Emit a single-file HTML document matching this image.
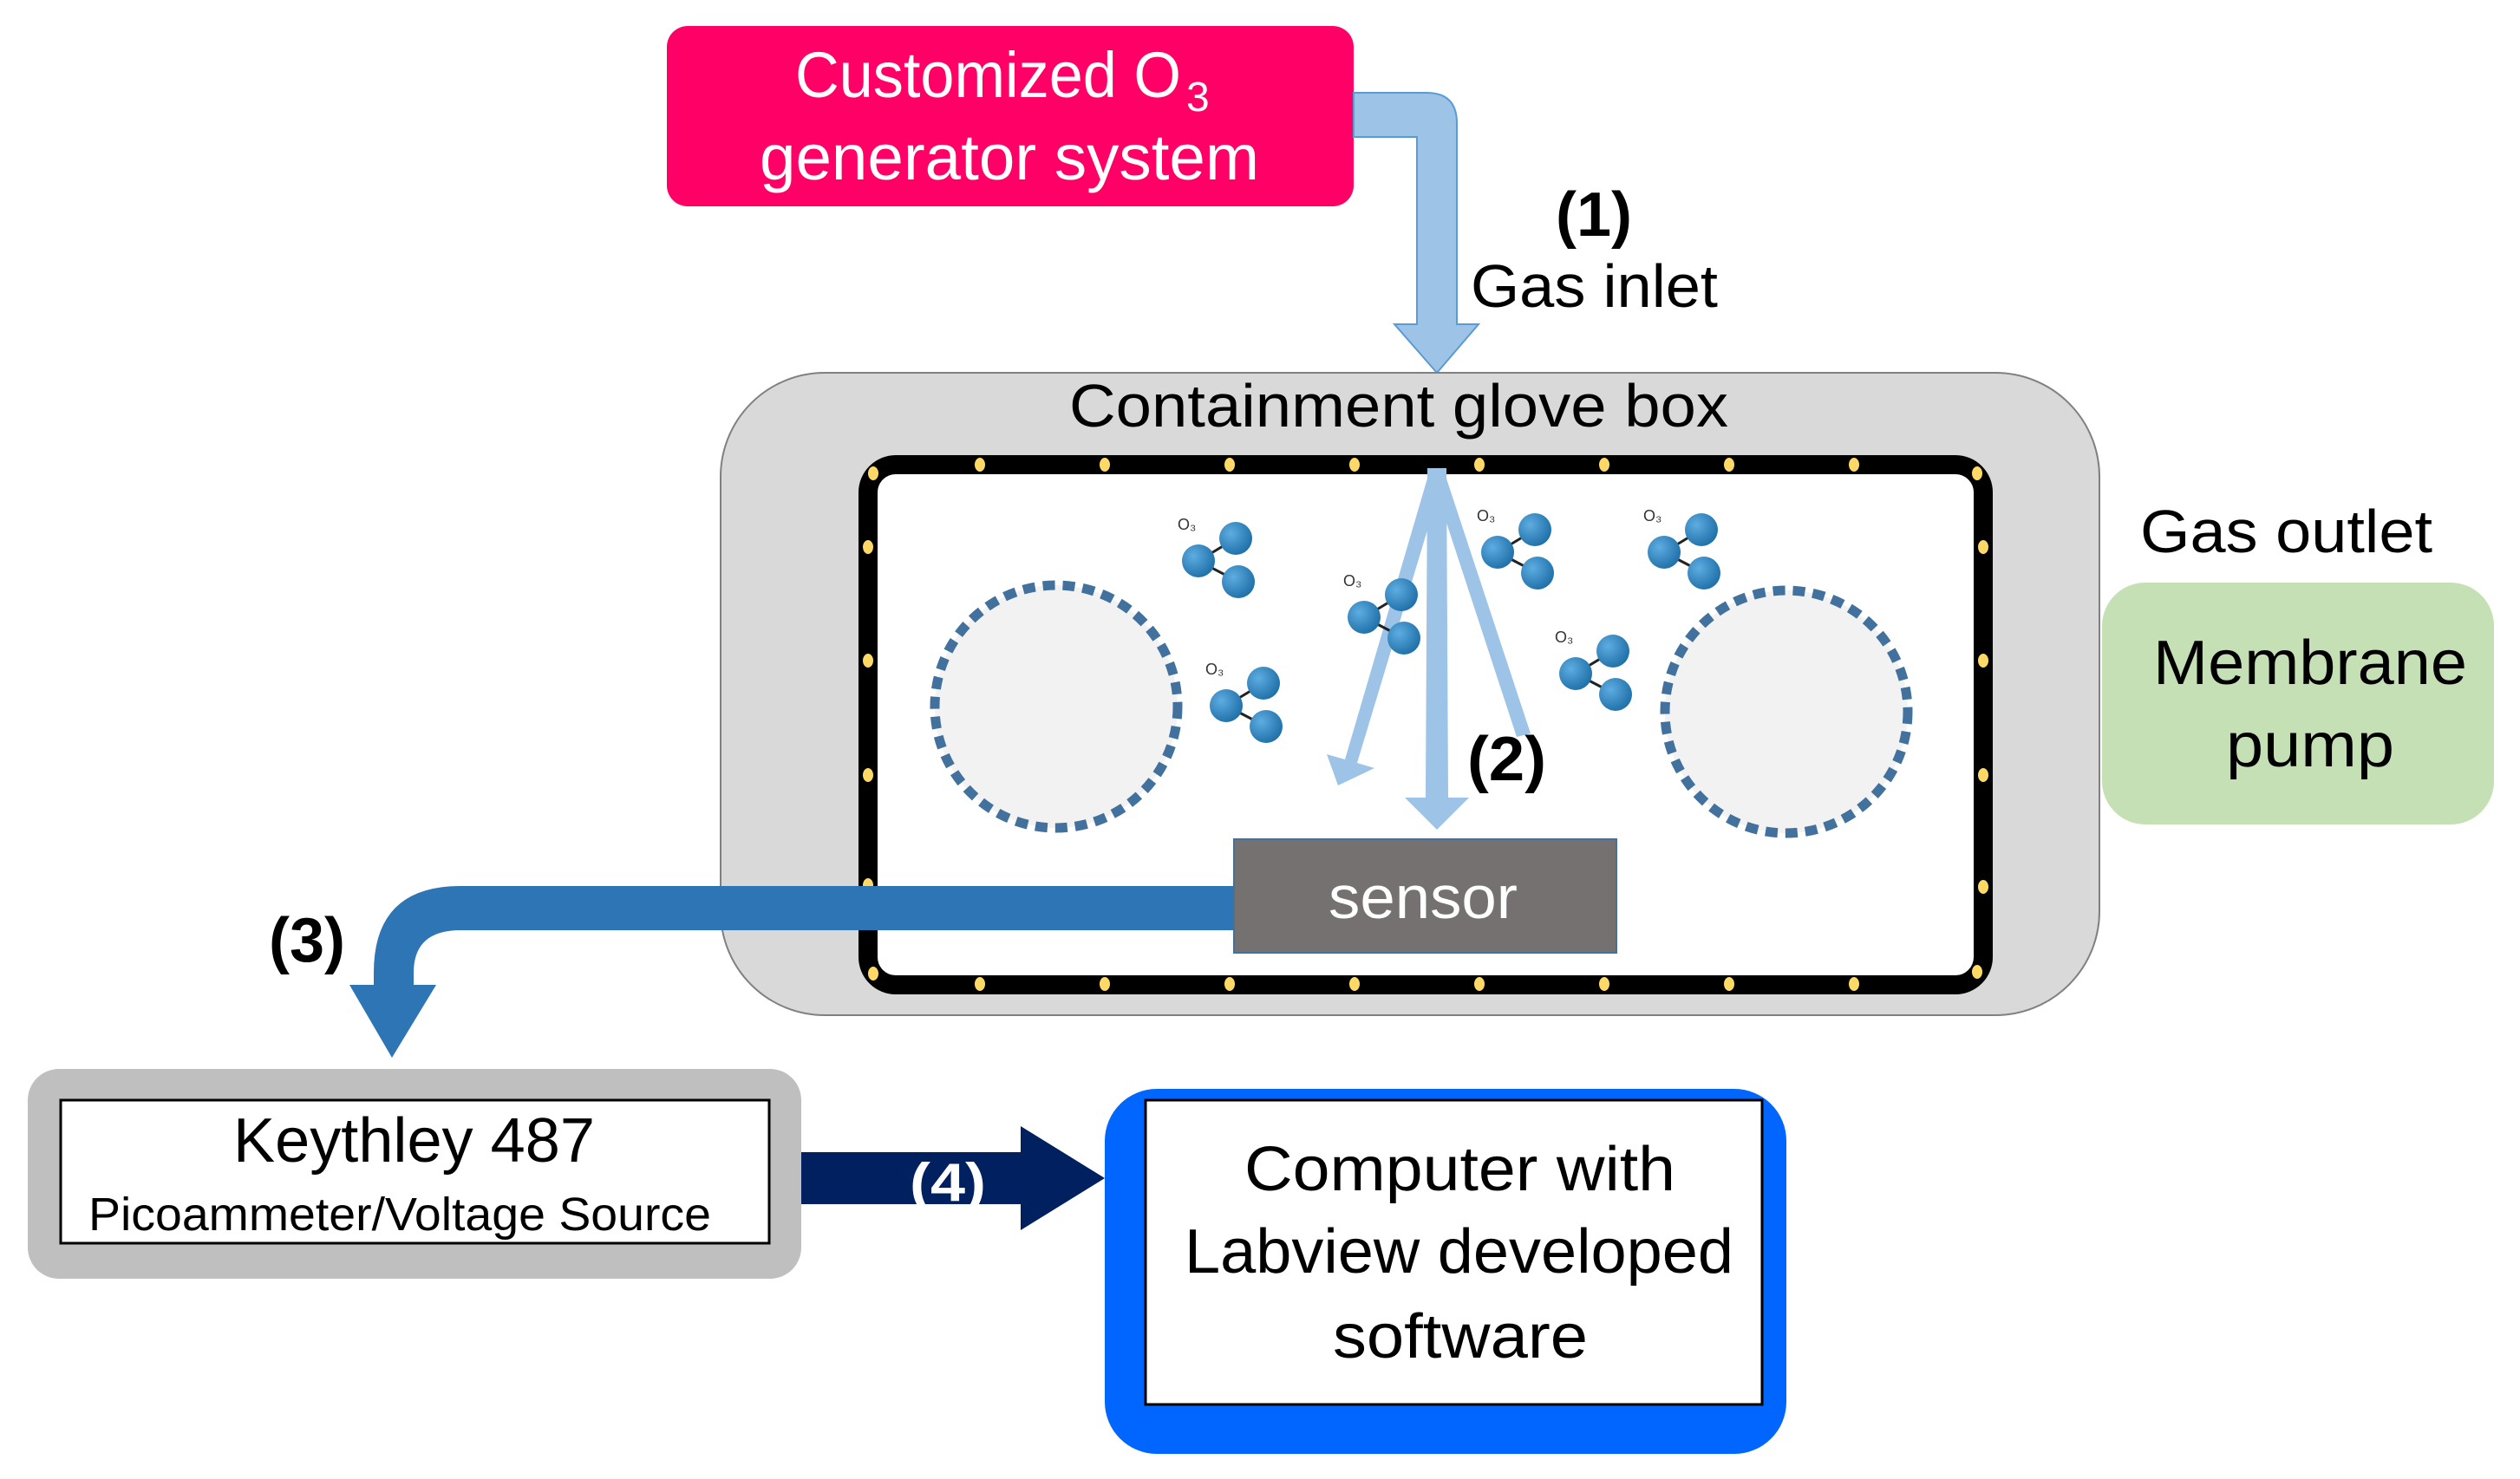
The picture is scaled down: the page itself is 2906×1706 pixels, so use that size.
<!DOCTYPE html>
<html><head><meta charset="utf-8"><style>
html,body{margin:0;padding:0;background:#fff;}
svg{display:block;}
text{font-family:"Liberation Sans",sans-serif;}
</style></head><body>
<svg width="2906" height="1706" viewBox="0 0 2906 1706" xmlns="http://www.w3.org/2000/svg">
<defs>
<radialGradient id="ball" cx="0.35" cy="0.35" r="0.7">
<stop offset="0" stop-color="#5DADE2"/><stop offset="1" stop-color="#1F6FA8"/>
</radialGradient>
</defs>

<rect x="769" y="30" width="792" height="208" rx="24" fill="#FF0066"/>
<text x="917" y="112" font-size="74" fill="#fff" textLength="445" lengthAdjust="spacingAndGlyphs">Customized O</text>
<text x="1368" y="128" font-size="48" fill="#fff">3</text>
<text x="876" y="207" font-size="74" fill="#fff" textLength="576" lengthAdjust="spacingAndGlyphs">generator system</text>

<path d="M1561,107 L1645,107 Q1680,107 1680,142 L1680,374 L1705,374 L1657,430 L1608,374 L1634,374 L1634,158 L1561,158 Z" fill="#9DC3E6" stroke="#5B9BD5" stroke-width="2"/>
<text x="1794" y="272" font-size="72" font-weight="bold" fill="#000" textLength="88" lengthAdjust="spacingAndGlyphs">(1)</text>
<text x="1696" y="354" font-size="70" fill="#000" textLength="285" lengthAdjust="spacingAndGlyphs">Gas inlet</text>

<rect x="831" y="430" width="1590" height="741" rx="120" fill="#D9D9D9" stroke="#808080" stroke-width="2"/>
<text x="1233" y="492" font-size="70" fill="#000" textLength="760" lengthAdjust="spacingAndGlyphs">Containment glove box</text>
<rect x="1001" y="536" width="1286" height="600" rx="32" fill="#fff" stroke="#000" stroke-width="22"/>
<g fill="#FFD966">
<ellipse cx="1007" cy="546" rx="6" ry="8"/><ellipse cx="2280" cy="546" rx="6" ry="8"/>
<ellipse cx="1007" cy="1123" rx="6" ry="8"/><ellipse cx="2280" cy="1121" rx="6" ry="8"/>
<ellipse cx="1130" cy="536" rx="6" ry="8"/><ellipse cx="1274" cy="536" rx="6" ry="8"/><ellipse cx="1418" cy="536" rx="6" ry="8"/><ellipse cx="1562" cy="536" rx="6" ry="8"/><ellipse cx="1706" cy="536" rx="6" ry="8"/><ellipse cx="1850" cy="536" rx="6" ry="8"/><ellipse cx="1994" cy="536" rx="6" ry="8"/><ellipse cx="2138" cy="536" rx="6" ry="8"/>
<ellipse cx="1130" cy="1135" rx="6" ry="8"/><ellipse cx="1274" cy="1135" rx="6" ry="8"/><ellipse cx="1418" cy="1135" rx="6" ry="8"/><ellipse cx="1562" cy="1135" rx="6" ry="8"/><ellipse cx="1706" cy="1135" rx="6" ry="8"/><ellipse cx="1850" cy="1135" rx="6" ry="8"/><ellipse cx="1994" cy="1135" rx="6" ry="8"/><ellipse cx="2138" cy="1135" rx="6" ry="8"/>
<ellipse cx="1001" cy="631" rx="6" ry="8"/><ellipse cx="1001" cy="762" rx="6" ry="8"/><ellipse cx="1001" cy="894" rx="6" ry="8"/><ellipse cx="1001" cy="1021" rx="6" ry="8"/>
<ellipse cx="2287" cy="631" rx="6" ry="8"/><ellipse cx="2287" cy="762" rx="6" ry="8"/><ellipse cx="2287" cy="894" rx="6" ry="8"/><ellipse cx="2287" cy="1023" rx="6" ry="8"/>
</g>

<circle cx="1218" cy="815" r="140" fill="#F2F2F2" stroke="#41719C" stroke-width="11" stroke-dasharray="14 9"/>
<circle cx="2060" cy="821" r="140" fill="#F2F2F2" stroke="#41719C" stroke-width="11" stroke-dasharray="14 9"/>

<g fill="#9DC3E6">
<polygon points="1657,540 1668,540 1670,920 1694,920 1657,957 1620,920 1644,920 1646,540"/>
<polygon points="1648,545 1664,552 1565,880 1585,886 1543,906 1530,870 1551,876"/>
<polygon points="1650,548 1664,540 1765,846 1749,850"/>
</g>
<text x="1692" y="900" font-size="72" font-weight="bold" fill="#000" textLength="91" lengthAdjust="spacingAndGlyphs">(2)</text>

<g>
<g transform="translate(1406,643)"><line x1="19" y1="-22" x2="-24" y2="4" stroke="#222" stroke-width="3"/><line x1="-24" y1="4" x2="22" y2="28" stroke="#222" stroke-width="3"/><circle cx="19" cy="-22" r="19" fill="url(#ball)"/><circle cx="-24" cy="4" r="19" fill="url(#ball)"/><circle cx="22" cy="28" r="19" fill="url(#ball)"/><text x="-48" y="-32" font-size="18" fill="#333">O₃</text></g>
<g transform="translate(1438,810)"><line x1="19" y1="-22" x2="-24" y2="4" stroke="#222" stroke-width="3"/><line x1="-24" y1="4" x2="22" y2="28" stroke="#222" stroke-width="3"/><circle cx="19" cy="-22" r="19" fill="url(#ball)"/><circle cx="-24" cy="4" r="19" fill="url(#ball)"/><circle cx="22" cy="28" r="19" fill="url(#ball)"/><text x="-48" y="-32" font-size="18" fill="#333">O₃</text></g>
<g transform="translate(1597,708)"><line x1="19" y1="-22" x2="-24" y2="4" stroke="#222" stroke-width="3"/><line x1="-24" y1="4" x2="22" y2="28" stroke="#222" stroke-width="3"/><circle cx="19" cy="-22" r="19" fill="url(#ball)"/><circle cx="-24" cy="4" r="19" fill="url(#ball)"/><circle cx="22" cy="28" r="19" fill="url(#ball)"/><text x="-48" y="-32" font-size="18" fill="#333">O₃</text></g>
<g transform="translate(1751,633)"><line x1="19" y1="-22" x2="-24" y2="4" stroke="#222" stroke-width="3"/><line x1="-24" y1="4" x2="22" y2="28" stroke="#222" stroke-width="3"/><circle cx="19" cy="-22" r="19" fill="url(#ball)"/><circle cx="-24" cy="4" r="19" fill="url(#ball)"/><circle cx="22" cy="28" r="19" fill="url(#ball)"/><text x="-48" y="-32" font-size="18" fill="#333">O₃</text></g>
<g transform="translate(1943,633)"><line x1="19" y1="-22" x2="-24" y2="4" stroke="#222" stroke-width="3"/><line x1="-24" y1="4" x2="22" y2="28" stroke="#222" stroke-width="3"/><circle cx="19" cy="-22" r="19" fill="url(#ball)"/><circle cx="-24" cy="4" r="19" fill="url(#ball)"/><circle cx="22" cy="28" r="19" fill="url(#ball)"/><text x="-48" y="-32" font-size="18" fill="#333">O₃</text></g>
<g transform="translate(1841,773)"><line x1="19" y1="-22" x2="-24" y2="4" stroke="#222" stroke-width="3"/><line x1="-24" y1="4" x2="22" y2="28" stroke="#222" stroke-width="3"/><circle cx="19" cy="-22" r="19" fill="url(#ball)"/><circle cx="-24" cy="4" r="19" fill="url(#ball)"/><circle cx="22" cy="28" r="19" fill="url(#ball)"/><text x="-48" y="-32" font-size="18" fill="#333">O₃</text></g>
</g>

<path d="M1425,1022 L531,1022 Q431,1022 431,1122 L431,1136 L403,1136 L452,1220 L503,1136 L477,1136 L477,1122 Q477,1073 531,1073 L1425,1073 Z" fill="#2E75B6"/>
<text x="310" y="1109" font-size="72" font-weight="bold" fill="#000" textLength="88" lengthAdjust="spacingAndGlyphs">(3)</text>

<rect x="1423" y="968" width="441" height="131" fill="#767171" stroke="#41719C" stroke-width="2"/>
<text x="1532" y="1059" font-size="70" fill="#fff" textLength="218" lengthAdjust="spacingAndGlyphs">sensor</text>

<text x="2468" y="637" font-size="70" fill="#000" textLength="337" lengthAdjust="spacingAndGlyphs">Gas outlet</text>
<rect x="2424" y="672" width="452" height="279" rx="50" fill="#C5E0B4"/>
<text x="2483" y="789" font-size="72" fill="#000" textLength="362" lengthAdjust="spacingAndGlyphs">Membrane</text>
<text x="2567" y="884" font-size="72" fill="#000" textLength="194" lengthAdjust="spacingAndGlyphs">pump</text>

<rect x="32" y="1233" width="892" height="242" rx="36" fill="#BFBFBF"/>
<rect x="70" y="1269" width="817" height="165" fill="#fff" stroke="#000" stroke-width="3"/>
<text x="269" y="1340" font-size="72" fill="#000" textLength="417" lengthAdjust="spacingAndGlyphs">Keythley 487</text>
<text x="102" y="1419" font-size="54" fill="#000" textLength="718" lengthAdjust="spacingAndGlyphs">Picoammeter/Voltage Source</text>

<polygon points="924,1329 1177,1329 1177,1299 1274,1359 1177,1419 1177,1389 924,1389" fill="#002060"/>
<text x="1049" y="1385" font-size="62" font-weight="bold" fill="#fff" textLength="88" lengthAdjust="spacingAndGlyphs">(4)</text>

<rect x="1274" y="1256" width="786" height="421" rx="60" fill="#0066FF"/>
<rect x="1321" y="1269" width="711" height="351" fill="#fff" stroke="#000" stroke-width="3"/>
<text x="1435" y="1373" font-size="72" fill="#000" textLength="497" lengthAdjust="spacingAndGlyphs">Computer with</text>
<text x="1366" y="1468" font-size="72" fill="#000" textLength="633" lengthAdjust="spacingAndGlyphs">Labview developed</text>
<text x="1537" y="1566" font-size="72" fill="#000" textLength="294" lengthAdjust="spacingAndGlyphs">software</text>
</svg>
</body></html>
